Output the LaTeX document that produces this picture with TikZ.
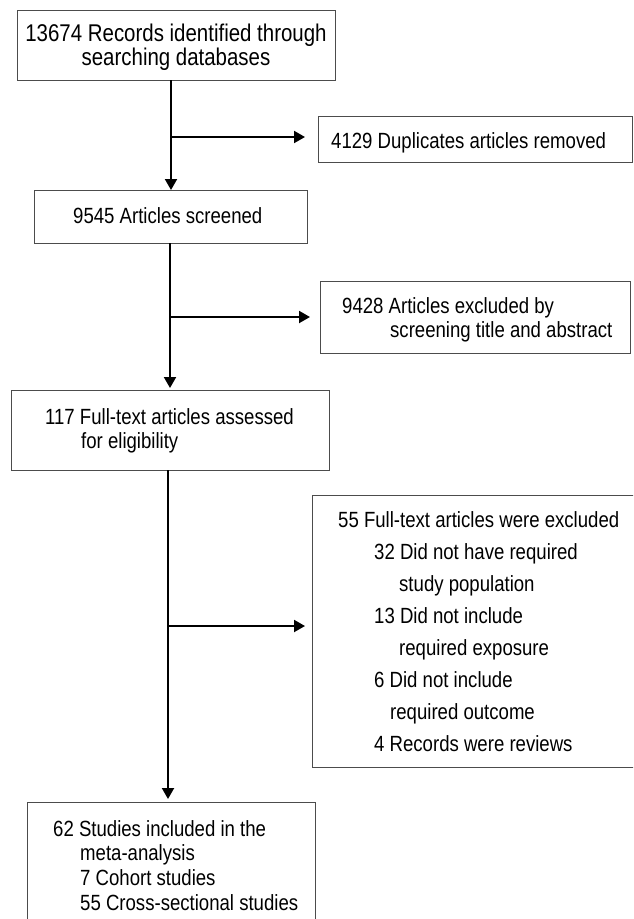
\documentclass[tikz,border=0pt]{standalone}
\usepackage{fontspec}
\setmainfont{Liberation Sans}[FakeStretch=0.845]
\usetikzlibrary{arrows.meta}
\begin{document}
\begin{tikzpicture}[x=1pt,y=-1pt,
  box/.style={draw=black!70, line width=1pt, inner sep=0pt, outer sep=0pt},
  txt/.style={inner sep=0pt, anchor=base west, text=black, font=\fontsize{22}{26}\selectfont},
  bigtxt/.style={inner sep=0pt, anchor=base, text=black, font=\fontsize{24.2}{28}\selectfont},
  flow/.style={line width=2pt, -{Triangle[length=11pt,width=12pt]}},
]
\useasboundingbox (0,0) rectangle (633,919);
\clip (0,0) rectangle (633,919);
\fill[white] (0,0) rectangle (633,919);

% boxes
\node[box, minimum width=318pt, minimum height=70pt]  (top) at (176,45) {};
\node[box, minimum width=314pt, minimum height=46pt]  (r1)  at (475,139) {};
\node[box, minimum width=273pt, minimum height=53pt]  (b2)  at (170.5,216.5) {};
\node[box, minimum width=310pt, minimum height=72pt]  (r2)  at (475,317) {};
\node[box, minimum width=318pt, minimum height=80pt]  (b3)  at (170,430) {};
\node[box, minimum width=328pt, minimum height=272pt] (r3)  at (476,631) {};
\node[box, minimum width=288pt, minimum height=128pt] (b4)  at (171,866) {};

% texts
\node[bigtxt] (t1a) at (176,41) {13674 Records identified through};
\node[bigtxt] (t1b) at (176,65) {searching databases};
\node[txt] (tr1) at (331,148) {4129 Duplicates articles removed};
\node[txt] (t2) at (73,223) {9545 Articles screened};
\node[txt] (tr2a) at (342,313) {9428 Articles excluded by};
\node[txt] (tr2b) at (390,337) {screening title and abstract};
\node[txt] (t3a) at (45,424) {117 Full-text articles assessed};
\node[txt] (t3b) at (81,448) {for eligibility};
\node[txt] (tr3a) at (338,527) {55 Full-text articles were excluded};
\node[txt] (tr3b) at (374,559) {32 Did not have required};
\node[txt] (tr3c) at (399,591) {study population};
\node[txt] (tr3d) at (374,623) {13 Did not include};
\node[txt] (tr3e) at (399,655) {required exposure};
\node[txt] (tr3f) at (374,687) {6 Did not include};
\node[txt] (tr3g) at (390,719) {required outcome};
\node[txt] (tr3h) at (374,751) {4 Records were reviews};
\node[txt] (t4a) at (53,836) {62 Studies included in the};
\node[txt] (t4b) at (80,860) {meta-analysis};
\node[txt] (t4c) at (80,885) {7 Cohort studies};
\node[txt] (t4d) at (80,910) {55 Cross-sectional studies};

% junction coordinates
\coordinate (j1) at (171,137);
\coordinate (j2) at (170,317);
\coordinate (j3) at (168,626);

% connectors
\draw[flow] (top.south -| j1) -- (b2.north -| j1);
\draw[flow, shorten >=13pt] (j1) -- (r1.west |- j1);
\draw[flow, shorten >=2pt] (b2.south -| j2) -- (b3.north -| j2);
\draw[flow, shorten >=10pt] (j2) -- (r2.west |- j2);
\draw[flow, shorten >=3pt] (b3.south -| j3) -- (b4.north -| j3);
\draw[flow, shorten >=7pt] (j3) -- (r3.west |- j3);
\end{tikzpicture}
\end{document}
